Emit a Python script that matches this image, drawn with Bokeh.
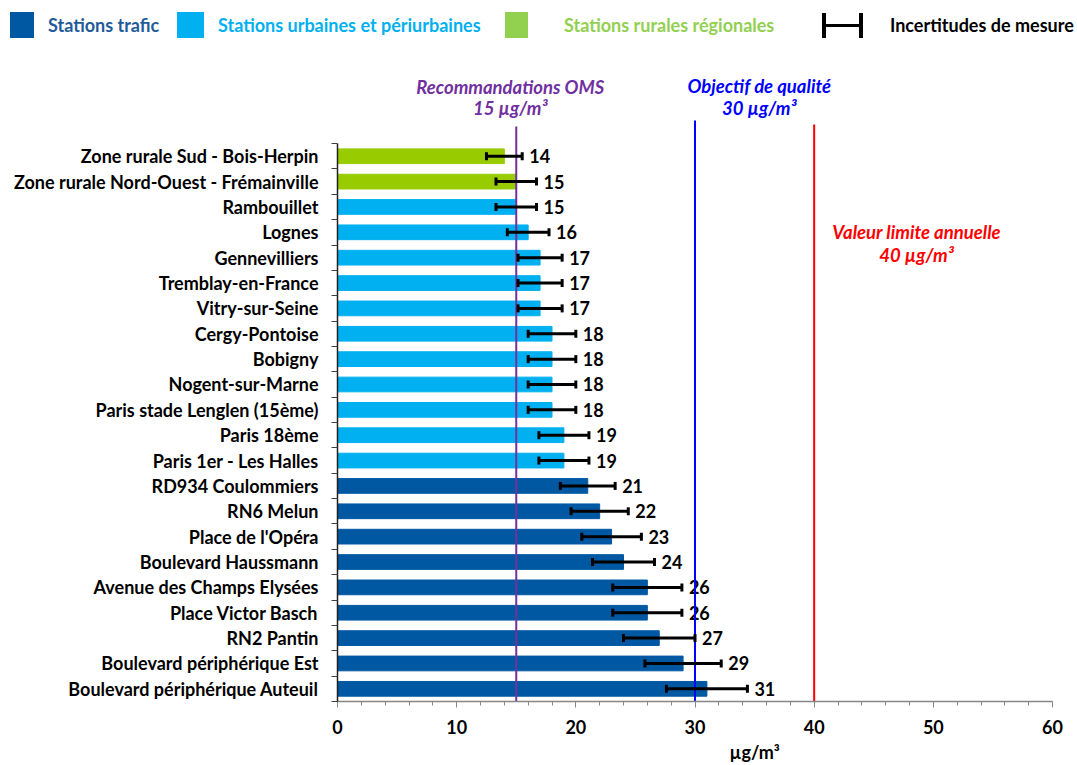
from bokeh.plotting import figure
from bokeh.layouts import column
from bokeh.models import (Range1d, FixedTicker, Whisker, TeeHead, ColumnDataSource, Title, Div)
from bokeh.core.properties import value
from bokeh.embed import file_html
from bokeh.resources import INLINE

# ---------------- data ----------------
stations = [
    "Zone rurale Sud - Bois-Herpin",
    "Zone rurale Nord-Ouest - Frémainville",
    "Rambouillet",
    "Lognes",
    "Gennevilliers",
    "Tremblay-en-France",
    "Vitry-sur-Seine",
    "Cergy-Pontoise",
    "Bobigny",
    "Nogent-sur-Marne",
    "Paris stade Lenglen (15ème)",
    "Paris 18ème",
    "Paris 1er - Les Halles",
    "RD934 Coulommiers",
    "RN6 Melun",
    "Place de l'Opéra",
    "Boulevard Haussmann",
    "Avenue des Champs Elysées",
    "Place Victor Basch",
    "RN2 Pantin",
    "Boulevard périphérique Est",
    "Boulevard périphérique Auteuil",
]
values = [14, 15, 15, 16, 17, 17, 17, 18, 18, 18, 18, 19, 19, 21, 22, 23, 24, 26, 26, 27, 29, 31]
uncertainty = [1.5, 1.7, 1.7, 1.75, 1.85, 1.85, 1.85, 2.0, 2.0, 2.0, 2.0, 2.1, 2.1, 2.3, 2.4, 2.5,
               2.6, 2.9, 2.9, 3.0, 3.2, 3.4]
types = ["rurale", "rurale"] + ["urbaine"] * 11 + ["trafic"] * 9

thresholds = [15, 30, 40]
threshold_names = ["Recommandations OMS", "Objectif de qualité", "Valeur limite annuelle"]
threshold_units = ["15 µg/m³", "30 µg/m³", "40 µg/m³"]

legend_labels = ["Stations trafic", "Stations urbaines et périurbaines", "Stations rurales régionales",
                 "Incertitudes de mesure"]

x_ticks = [0, 10, 20, 30, 40, 50, 60]
x_title = "µg/m³"

# ---------------- styles ----------------
type_colors = {"trafic": "#0058A3", "urbaine": "#00B0F0", "rurale": "#99CC00"}
thr_colors = ["#7030A0", "#0000FF", "#FF0000"]
FONT = "Lato"

W = 1077
LEG_H = 50
H = 765 - LEG_H
FRAME_LEFT, FRAME_RIGHT = 337, 1052
FRAME_BOTTOM_PAGE = 702
FRAME_BOTTOM = FRAME_BOTTOM_PAGE - LEG_H
px_per_cat = 25.4

n = len(stations)
ypos = [n - 1 - i for i in range(n)]
colors = [type_colors[t] for t in types]
lower = [v - u for v, u in zip(values, uncertainty)]
upper = [v + u for v, u in zip(values, uncertainty)]

src = ColumnDataSource(dict(y=ypos, v=values, lower=lower, upper=upper, color=colors,
                            lab=[str(v) for v in values]))


def page_to_y(py):
    return -0.5 + (FRAME_BOTTOM_PAGE - py) / px_per_cat


y_start = -0.5
y_end = page_to_y(LEG_H)

p = figure(width=W, height=H, output_backend="svg", toolbar_location=None,
           x_range=Range1d(0, 60), y_range=Range1d(y_start, y_end),
           min_border_left=FRAME_LEFT, min_border_right=W - FRAME_RIGHT,
           min_border_top=0, min_border_bottom=H - FRAME_BOTTOM)
p.outline_line_color = None
p.grid.grid_line_color = None
p.background_fill_color = "white"

p.hbar(y="y", right="v", left=0, height=0.58, color="color", source=src)

w = Whisker(base="y", lower="lower", upper="upper", dimension="width", source=src,
            line_color="black", line_width=3, level="overlay",
            lower_head=TeeHead(size=8, line_width=3, line_color="black"),
            upper_head=TeeHead(size=8, line_width=3, line_color="black"))
p.add_layout(w)

p.text(x="upper", y="y", text="lab", source=src, x_offset=7,
       text_font=value(FONT), text_font_style="bold", text_font_size="18px",
       text_baseline="middle", text_align="left", text_color="black")

# threshold lines
top_pages = [126, 120, 124]
for thr, col, tp in zip(thresholds, thr_colors, top_pages):
    p.segment(x0=[thr], x1=[thr], y0=[y_start], y1=[page_to_y(tp)], line_color=col, line_width=2)

# threshold texts
txt_x = [14.5, 35.4, 48.6]
txt_p1 = [87, 86, 232]
txt_p2 = [108, 108, 255]
for name, unit, col, tx, p1, p2 in zip(threshold_names, threshold_units, thr_colors, txt_x, txt_p1, txt_p2):
    p.text(x=[tx], y=[page_to_y(p1)], text=[name], text_color=col, text_font=value(FONT),
           text_font_style="bold italic", text_font_size="18.5px", text_align="center", text_baseline="middle")
    p.text(x=[tx], y=[page_to_y(p2)], text=[unit], text_color=col, text_font=value(FONT),
           text_font_style="bold italic", text_font_size="18.5px", text_align="center", text_baseline="middle")

# x axis
xa = p.xaxis[0]
xa.ticker = FixedTicker(ticks=x_ticks, minor_ticks=[t for t in range(0, 61, 2) if t % 10])
xa.bounds = (0, 60)
xa.axis_line_color = "#868686"
xa.axis_line_width = 1.5
xa.major_tick_line_color = "#868686"
xa.minor_tick_line_color = "#868686"
xa.major_tick_out = 6
xa.major_tick_in = 0
xa.minor_tick_out = 4
xa.minor_tick_in = 0
xa.major_label_text_font = FONT
xa.major_label_text_font_style = "bold"
xa.major_label_text_font_size = "18px"
xa.major_label_text_color = "black"
xa.major_label_standoff = 12

p.add_layout(Title(text=x_title, align="left", offset=392, standoff=5,
                   text_font=FONT, text_font_style="bold", text_font_size="18px",
                   text_color="black"), "below")

# y axis
ya = p.yaxis[0]
ya.ticker = FixedTicker(ticks=ypos, minor_ticks=[k - 0.5 for k in range(n + 1)])
ya.major_label_overrides = {y: s for y, s in zip(ypos, stations)}
ya.bounds = (-0.7, n - 0.5)
ya.axis_line_color = "#202020"
ya.axis_line_width = 1.5
ya.major_tick_out = 0
ya.major_tick_in = 0
ya.minor_tick_line_color = "#404040"
ya.minor_tick_out = 6
ya.minor_tick_in = 0
ya.major_label_text_font = FONT
ya.major_label_text_font_style = "bold"
ya.major_label_text_font_size = "18px"
ya.major_label_text_color = "black"
ya.major_label_standoff = 13

# ---------------- legend (HTML strip above the chart) ----------------
sq_left = [10, 177, 505]
sq_width = [24, 27, 23]
sq_col = [type_colors["trafic"], "#00B0F0", "#92D050"]
txt_col = ["#1F5C99", "#00B0F0", "#92D050"]
txt_x0 = [48, 218, 564]

parts = []
for l, wd, c in zip(sq_left, sq_width, sq_col):
    parts.append(f'<div style="position:absolute;left:{l}px;top:12px;width:{wd}px;height:26px;background:{c};"></div>')
for t, x0, c in zip(legend_labels[:3], txt_x0, txt_col):
    parts.append(f'<span style="position:absolute;left:{x0}px;top:12px;line-height:26px;color:{c};'
                 f'white-space:nowrap;">{t}</span>')
for l, tp, wd, ht in [(823, 24, 39, 3), (822, 13, 4, 25), (859, 13, 4, 25)]:
    parts.append(f'<div style="position:absolute;left:{l}px;top:{tp}px;width:{wd}px;height:{ht}px;background:black;"></div>')
parts.append(f'<span style="position:absolute;left:890px;top:12px;line-height:26px;color:black;'
             f'white-space:nowrap;">{legend_labels[3]}</span>')

html = (f'<div style="position:relative;width:{W}px;height:{LEG_H}px;font-family:Lato;'
        f'font-weight:bold;font-size:18px;margin:0;padding:0;">' + "".join(parts) + "</div>")
legend_div = Div(text=html, width=W, height=LEG_H, margin=(0, 0, 0, 0))

layout = column(legend_div, p, spacing=0)
open("out.html", "w").write(file_html(layout, INLINE))
